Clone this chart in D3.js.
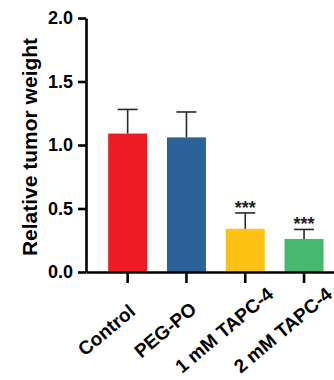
<!DOCTYPE html>
<html>
<head>
<meta charset="utf-8">
<script src="https://cdn.jsdelivr.net/npm/d3@7"></script>
<style>
  html, body { margin: 0; padding: 0; background: #fff; }
  svg { display: block; font-family: Arial, "Liberation Sans", sans-serif; }
</style>
</head>
<body>
<svg id="chart" width="334" height="380"></svg>
<script>
const categories = ["Control", "PEG-PO", "1 mM TAPC-4", "2 mM TAPC-4"];
const means = [1.09, 1.06, 0.34, 0.26];
const errors = [0.19, 0.20, 0.125, 0.075];
const signif = ["", "", "***", "***"];
const colors = ["#ED1C24", "#2B6399", "#FDC212", "#46B96F"];
const yTicks = [0, 0.5, 1.0, 1.5, 2.0];
const yLabel = "Relative tumor weight";

const svg = d3.select("#chart");
const x0 = 86, x1 = 345.7, yBottom = 272, yTop = 18;

const x = d3.scaleBand().domain(categories).range([x0, x1])
  .paddingInner(0.337).paddingOuter(0.377);
const y = d3.scaleLinear().domain([0, 2]).range([yBottom, yTop]);

// bars
svg.append("g").selectAll("rect").data(categories).join("rect")
  .attr("x", d => x(d))
  .attr("width", x.bandwidth())
  .attr("y", (d, i) => y(means[i]))
  .attr("height", (d, i) => y(0) - y(means[i]))
  .attr("fill", (d, i) => colors[i]);

// error bars (upper only)
const eb = svg.append("g").attr("stroke", "#2a2a2a").attr("stroke-width", 1.6);
categories.forEach((c, i) => {
  const cx = x(c) + x.bandwidth() / 2;
  eb.append("line").attr("x1", cx).attr("x2", cx)
    .attr("y1", y(means[i])).attr("y2", y(means[i] + errors[i]));
  eb.append("line").attr("x1", cx - 10).attr("x2", cx + 10)
    .attr("y1", y(means[i] + errors[i])).attr("y2", y(means[i] + errors[i]));
});

// significance
svg.append("g").selectAll("text").data(categories).join("text")
  .attr("x", d => x(d) + x.bandwidth() / 2)
  .attr("y", (d, i) => y(means[i] + errors[i]) + 1)
  .attr("text-anchor", "middle")
  .attr("font-size", 18)
  .attr("font-weight", "bold")
  .attr("fill", "#222")
  .text((d, i) => signif[i]);

// y axis
const yAxis = svg.append("g").attr("transform", `translate(${x0},0)`)
  .call(d3.axisLeft(y).tickValues(yTicks).tickFormat(d3.format(".1f"))
    .tickSize(8).tickPadding(5).tickSizeOuter(0));
yAxis.select(".domain").attr("stroke", "#000").attr("stroke-width", 2.6);
yAxis.selectAll(".tick line").attr("stroke", "#000").attr("stroke-width", 2.6);
yAxis.selectAll(".tick text").attr("font-size", 18).attr("font-weight", "bold")
  .attr("fill", "#000").attr("font-family", "Arial, 'Liberation Sans', sans-serif");

// x axis
const xAxis = svg.append("g").attr("transform", `translate(0,${yBottom})`)
  .call(d3.axisBottom(x).tickSize(11).tickSizeOuter(0).tickFormat(""));
xAxis.select(".domain").attr("stroke", "#000").attr("stroke-width", 2.6);
xAxis.selectAll(".tick line").attr("stroke", "#000").attr("stroke-width", 2.6);

// x labels, rotated
svg.append("g").selectAll("text").data(categories).join("text")
  .attr("transform", d => `translate(${x(d) + x.bandwidth() / 2 - 17},${335}) rotate(-40)`)
  .attr("text-anchor", "middle")
  .attr("font-size", 19)
  .attr("font-weight", "bold")
  .attr("fill", "#000")
  .text(d => d);

// y label
svg.append("text")
  .attr("transform", `translate(37,147) rotate(-90)`)
  .attr("text-anchor", "middle")
  .attr("font-size", 21)
  .attr("font-weight", "bold")
  .attr("fill", "#000")
  .text(yLabel);
</script>
</body>
</html>
